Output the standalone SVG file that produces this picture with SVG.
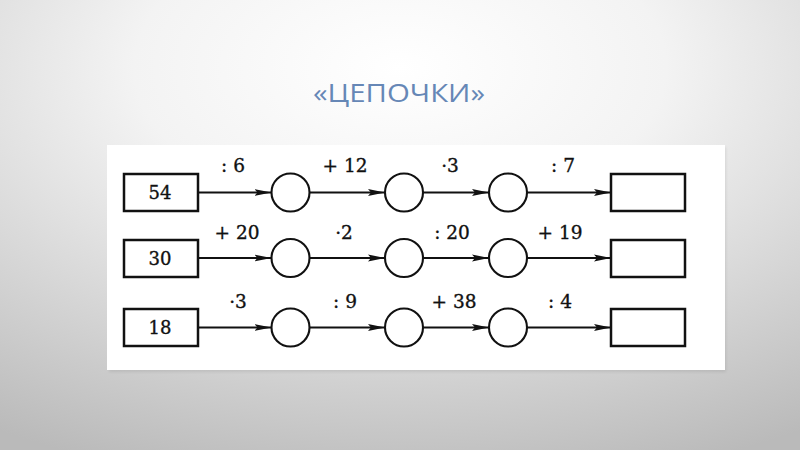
<svg xmlns="http://www.w3.org/2000/svg" width="800" height="450" viewBox="0 0 800 450">
<defs>
<radialGradient id="bg" cx="0.5" cy="0.15" r="0.95" gradientUnits="objectBoundingBox">
<stop offset="0" stop-color="#ffffff"/>
<stop offset="0.35" stop-color="#f3f3f3"/>
<stop offset="1" stop-color="#bababa"/>
</radialGradient>
<marker id="ah" markerUnits="userSpaceOnUse" markerWidth="18" markerHeight="8" refX="17" refY="4" orient="auto">
<path d="M0,0.6 L17,4 L0,7.4 L3,4 Z" fill="#111"/>
</marker>
<filter id="sh" x="-5%" y="-5%" width="110%" height="110%">
<feGaussianBlur stdDeviation="1.5"/>
</filter>
</defs>
<style>
.box{fill:#fff;stroke:#111;stroke-width:2.5}
.circ{fill:#fff;stroke:#111;stroke-width:2.1}
.arr{stroke:#111;stroke-width:1.9;fill:none;marker-end:url(#ah)}
.num{font-family:"DejaVu Serif","Liberation Serif",serif;font-size:18px;fill:#111;stroke:#111;stroke-width:0.35;text-anchor:middle}
.lbl{font-family:"DejaVu Serif","Liberation Serif",serif;font-size:18.5px;fill:#111;stroke:#111;stroke-width:0.35;text-anchor:middle}
.title{font-family:"Open Sans","DejaVu Sans",sans-serif;font-size:26px;fill:#6687b6;text-anchor:middle}
</style>
<rect width="800" height="450" fill="url(#bg)"/>
<text class="title" x="399" y="102" textLength="172" lengthAdjust="spacingAndGlyphs">«ЦЕПОЧКИ»</text>
<rect x="109" y="147" width="617" height="225" fill="#000" opacity="0.08" filter="url(#sh)"/>
<rect x="107" y="145" width="618" height="225" fill="#ffffff"/>

<g id="connectors">
<line class="arr" x1="198" y1="192.5" x2="271.5" y2="192.5"/>
<line class="arr" x1="309.5" y1="192.5" x2="385" y2="192.5"/>
<line class="arr" x1="423" y1="192.5" x2="489" y2="192.5"/>
<line class="arr" x1="527" y1="192.5" x2="611" y2="192.5"/>
<line class="arr" x1="198" y1="258" x2="271.5" y2="258"/>
<line class="arr" x1="309.5" y1="258" x2="385" y2="258"/>
<line class="arr" x1="423" y1="258" x2="489" y2="258"/>
<line class="arr" x1="527" y1="258" x2="611" y2="258"/>
<line class="arr" x1="198" y1="327.5" x2="271.5" y2="327.5"/>
<line class="arr" x1="309.5" y1="327.5" x2="385" y2="327.5"/>
<line class="arr" x1="423" y1="327.5" x2="489" y2="327.5"/>
<line class="arr" x1="527" y1="327.5" x2="611" y2="327.5"/>
</g>
<g id="labels">
<text class="lbl" x="233" y="172">: 6</text>
<text class="lbl" x="345" y="172">+ 12</text>
<text class="lbl" x="450" y="172">·3</text>
<text class="lbl" x="563" y="172">: 7</text>
<text class="lbl" x="237" y="239">+ 20</text>
<text class="lbl" x="344" y="239">·2</text>
<text class="lbl" x="452" y="239">: 20</text>
<text class="lbl" x="560" y="239">+ 19</text>
<text class="lbl" x="238" y="308">·3</text>
<text class="lbl" x="345" y="308">: 9</text>
<text class="lbl" x="454" y="308">+ 38</text>
<text class="lbl" x="560" y="308">: 4</text>
</g>

<g id="start1"><rect class="box" x="124" y="174" width="74" height="37"/><text class="num" x="160" y="199">54</text></g>
<g id="c11"><circle class="circ" cx="290.5" cy="192.5" r="19"/></g>
<g id="c12"><circle class="circ" cx="404" cy="192.5" r="19"/></g>
<g id="c13"><circle class="circ" cx="508" cy="192.5" r="19"/></g>
<g id="end1"><rect class="box" x="611" y="174" width="74" height="37"/></g>

<g id="start2"><rect class="box" x="124" y="240" width="74" height="37"/><text class="num" x="160" y="265">30</text></g>
<g id="c21"><circle class="circ" cx="290.5" cy="258" r="19"/></g>
<g id="c22"><circle class="circ" cx="404" cy="258" r="19"/></g>
<g id="c23"><circle class="circ" cx="508" cy="258" r="19"/></g>
<g id="end2"><rect class="box" x="611" y="240" width="74" height="37"/></g>

<g id="start3"><rect class="box" x="124" y="309" width="74" height="37"/><text class="num" x="160" y="334">18</text></g>
<g id="c31"><circle class="circ" cx="290.5" cy="327.5" r="19"/></g>
<g id="c32"><circle class="circ" cx="404" cy="327.5" r="19"/></g>
<g id="c33"><circle class="circ" cx="508" cy="327.5" r="19"/></g>
<g id="end3"><rect class="box" x="611" y="309" width="74" height="37"/></g>
</svg>
